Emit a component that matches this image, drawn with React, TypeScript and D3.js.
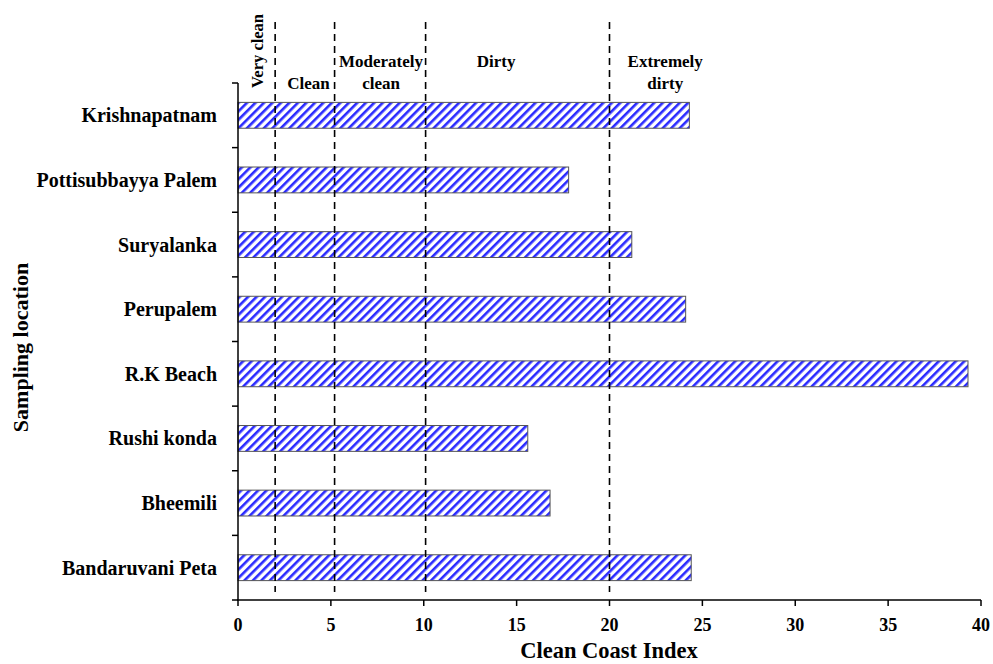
import React from "react";
import * as d3 from "d3";

const categories = [
  "Krishnapatnam",
  "Pottisubbayya Palem",
  "Suryalanka",
  "Perupalem",
  "R.K Beach",
  "Rushi konda",
  "Bheemili",
  "Bandaruvani Peta",
];
const values = [24.3, 17.8, 21.2, 24.1, 39.3, 15.6, 16.8, 24.4];
const xTicks = [0, 5, 10, 15, 20, 25, 30, 35, 40];
const thresholds = [2, 5.2, 10.1, 20];
const zoneLabels = [
  { lines: ["Clean"], x: 3.8 },
  { lines: ["Moderately", "clean"], x: 7.7 },
  { lines: ["Dirty"], x: 13.9 },
  { lines: ["Extremely", "dirty"], x: 23 },
];

const W = 993;
const H = 664;
const left = 238;
const right = 981;
const top = 83;
const bottom = 600;
const font = "Liberation Serif, Times New Roman, serif";

export default function App() {
  const x = d3.scaleLinear().domain([0, 40]).range([left, right]);
  const y = d3.scaleBand().domain(categories).range([top, bottom]).paddingInner(0.6).paddingOuter(0.3);
  const step = (bottom - top) / categories.length;
  const boundaries = d3.range(categories.length + 1).map((i) => top + i * step);

  return (
    <svg width={W} height={H} style={{ position: "absolute", left: 0, top: 0, background: "#fff" }}>
      <defs>
        <pattern id="hatch" patternUnits="userSpaceOnUse" width="6" height="6" patternTransform="rotate(45)">
          <rect width="6" height="6" fill="#fff" />
          <rect x="0" y="0" width="2.6" height="6" fill="#2a2aff" />
        </pattern>
      </defs>
      <rect width={W} height={H} fill="#fff" />

      {categories.map((c, i) => (
        <rect
          key={c}
          x={x(0)}
          y={y(c)}
          width={x(values[i]) - x(0)}
          height={y.bandwidth()}
          fill="url(#hatch)"
          stroke="#555"
          strokeWidth={1}
        />
      ))}

      {thresholds.map((t) => (
        <line key={t} x1={x(t)} x2={x(t)} y1={22} y2={592} stroke="#000" strokeWidth={1.6} strokeDasharray="7,5" />
      ))}

      {/* y axis */}
      <line x1={left} x2={left} y1={top} y2={bottom} stroke="#000" strokeWidth={1.5} />
      {boundaries.map((b, i) => (
        <line key={i} x1={left - 6} x2={left} y1={b} y2={b} stroke="#000" strokeWidth={1.5} />
      ))}
      {categories.map((c) => (
        <text
          key={c}
          x={217}
          y={(y(c) as number) + y.bandwidth() / 2}
          textAnchor="end"
          dominantBaseline="central"
          fontFamily={font}
          fontWeight="bold"
          fontSize={20}
        >
          {c}
        </text>
      ))}

      {/* x axis */}
      <line x1={left - 1} x2={right} y1={bottom} y2={bottom} stroke="#000" strokeWidth={1.5} />
      {xTicks.map((t) => (
        <g key={t}>
          <line x1={x(t)} x2={x(t)} y1={bottom} y2={bottom + 6} stroke="#000" strokeWidth={1.5} />
          <text
            x={x(t)}
            y={625}
            textAnchor="middle"
            dominantBaseline="central"
            fontFamily={font}
            fontWeight="bold"
            fontSize={18}
          >
            {t}
          </text>
        </g>
      ))}

      {/* zone labels */}
      <text
        transform={`translate(${x(1.05)},51) rotate(-90)`}
        textAnchor="middle"
        dominantBaseline="central"
        fontFamily={font}
        fontWeight="bold"
        fontSize={16.5}
      >
        Very clean
      </text>
      {zoneLabels.map((z) => (
        <text key={z.lines[0]} textAnchor="middle" fontFamily={font} fontWeight="bold" fontSize={17}>
          {z.lines.map((l, i) => (
            <tspan key={l} x={x(z.x)} y={z.lines.length === 1 && z.lines[0] === "Clean" ? 89 : 67 + i * 22}>
              {l}
            </tspan>
          ))}
        </text>
      ))}

      {/* titles */}
      <text x={609} y={658} textAnchor="middle" fontFamily={font} fontWeight="bold" fontSize={22.5}>
        Clean Coast Index
      </text>
      <text
        transform={`translate(20,${(top + bottom) / 2 + 6}) rotate(-90)`}
        textAnchor="middle"
        dominantBaseline="central"
        fontFamily={font}
        fontWeight="bold"
        fontSize={22}
      >
        Sampling location
      </text>
    </svg>
  );
}
